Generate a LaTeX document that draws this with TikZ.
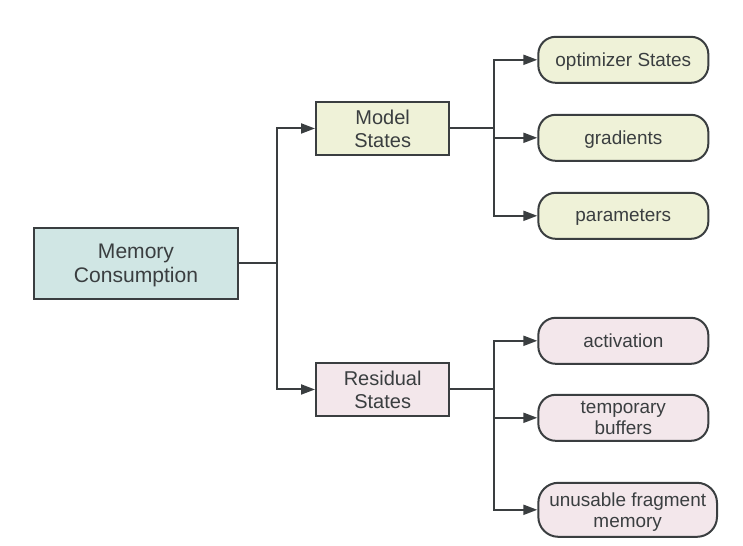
\documentclass[tikz,border=0pt]{standalone}
\usepackage{fontspec}
\setmainfont{Liberation Sans}
\usepackage{xcolor}
\usetikzlibrary{arrows.meta,positioning}

\definecolor{inkgray}{HTML}{3A3E40}
\definecolor{memfill}{HTML}{D0E6E4}
\definecolor{modelfill}{HTML}{EFF2D8}
\definecolor{resfill}{HTML}{F3E7EB}

\begin{document}
\begin{tikzpicture}[
    text=inkgray,
    mainbox/.style={rectangle, draw=inkgray, line width=1.5pt, fill=memfill, align=center, minimum width=153pt, minimum height=53pt, text depth=0pt, font=\fontsize{15.8pt}{18pt}\selectfont},
    statebox/.style={rectangle, draw=inkgray, line width=1.5pt, align=center, minimum width=100pt, minimum height=40pt, inner sep=0pt, font=\fontsize{15pt}{17.25pt}\selectfont},
    leafbox/.style={rectangle, rounded corners=13pt, draw=inkgray, line width=1.5pt, align=center, minimum width=127.5pt, minimum height=34.5pt, inner sep=0pt, text depth=0pt, font=\fontsize{14.2pt}{15.75pt}\selectfont},
    conn/.style={draw=inkgray, line width=1.5pt, -{Triangle[length=10.5pt,width=7.5pt]}}
]
\useasboundingbox (0,0) rectangle (557.25pt,-409.5pt);

\node[mainbox] (mem) at (102pt,-197.6pt) {Memory\\Consumption};

\node[statebox, fill=modelfill] (model) [above right=53.25pt and 57pt of mem] {Model\\States};
\node[statebox, fill=resfill] (res) [below right=46.5pt and 57pt of mem] {Residual\\States};

\node[leafbox, fill=modelfill] (opt) [above right=12.75pt and 65.25pt of model] {optimizer States};
\node[leafbox, fill=modelfill] (grad) [below=22.5pt of opt] {gradients};
\node[leafbox, fill=modelfill] (param) [below=22.5pt of grad] {parameters};

\node[leafbox, fill=resfill] (act) [below=57.75pt of param] {activation};
\node[leafbox, fill=resfill] (temp) [below=21.75pt of act] {temporary\\buffers};
\node[leafbox, fill=resfill, rounded corners=15pt, minimum width=134pt, minimum height=40.5pt] (frag) [below=30pt of temp.south west, anchor=north west] {unusable fragment\\memory};

\coordinate[right=28.5pt of mem] (memsplit);
\coordinate[right=33pt of model] (modelsplit);
\coordinate[right=33pt of res] (ressplit);

\draw[conn] (mem) -- (memsplit) |- (model);
\draw[conn] (mem) -- (memsplit) |- (res);

\draw[conn] (model) -- (modelsplit) |- (opt);
\draw[conn] (model) -- (modelsplit) |- (grad);
\draw[conn] (model) -- (modelsplit) |- (param);

\draw[conn] (res) -- (ressplit) |- (act);
\draw[conn] (res) -- (ressplit) |- (temp);
\draw[conn] (res) -- (ressplit) |- (frag);
\end{tikzpicture}
\end{document}
